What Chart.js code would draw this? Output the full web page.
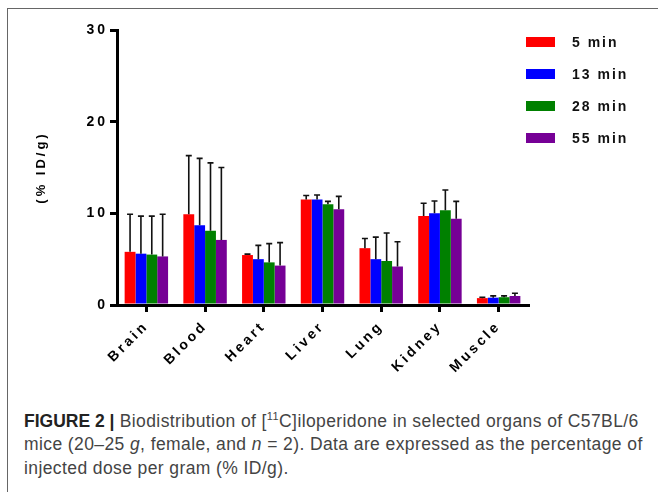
<!DOCTYPE html>
<html>
<head>
<meta charset="utf-8">
<script src="https://cdn.jsdelivr.net/npm/chart.js@4.4.1/dist/chart.umd.min.js"></script>
<style>
  body { margin: 0; background: #fff; width: 658px; height: 492px; overflow: hidden; position: relative; font-family: "Liberation Sans", Arial, sans-serif; }
  #frame { position: absolute; left: 7px; top: 8px; width: 700px; height: 600px; border-left: 1px solid #666; border-top: 1px solid #666; }
  #chart { position: absolute; left: 0; top: 0; }
  #legend { position: absolute; left: 526px; top: 37px; }
  .item { height: 32px; position: relative; }
  .swatch { position: absolute; left: 0; top: 0; width: 29px; height: 10px; }
  .lbl { position: absolute; left: 46px; top: -3px; font-weight: bold; font-size: 14px; letter-spacing: 2px; color: #111; white-space: nowrap; }
  #caption { position: absolute; left: 24px; top: 405px; width: 632px; font-size: 17.5px; letter-spacing: 0.4px; line-height: 23.5px; color: #444; }
  #caption b { color: #222; letter-spacing: 0; }
</style>
</head>
<body>
<div id="frame"></div>
<canvas id="chart" width="658" height="392"></canvas>
<div id="legend"></div>
<div id="caption"><b>FIGURE 2 |</b> Biodistribution of [<sup style="font-size:11px">11</sup>C]iloperidone in selected organs of C57BL/6 mice (20–25 <i>g</i>, female, and <i>n</i> = 2). Data are expressed as the percentage of injected dose per gram (% ID/g).</div>
<script>
const organs = ['Brain', 'Blood', 'Heart', 'Liver', 'Lung', 'Kidney', 'Muscle'];
const seriesNames = ['5 min', '13 min', '28 min', '55 min'];
const colors = ['#ff0000', '#0000ff', '#008000', '#760096'];

// mean %ID/g
const min5 = [5.8, 9.9, 5.45, 11.5, 6.2, 9.7, 0.75];
const min13 = [5.6, 8.7, 5.0, 11.5, 5.0, 10.0, 0.8];
const min28 = [5.5, 8.1, 4.65, 11.0, 4.8, 10.35, 0.85];
const min55 = [5.3, 7.1, 4.3, 10.45, 4.2, 9.4, 0.98];

// SD (upper error bar only)
const sd5 = [4.1, 6.4, 0.1, 0.45, 1.05, 1.4, 0.1];
const sd13 = [4.1, 7.3, 1.5, 0.5, 2.4, 1.35, 0.2];
const sd28 = [4.2, 7.4, 2.05, 0.3, 3.05, 2.2, 0.15];
const sd55 = [4.6, 7.9, 2.5, 1.4, 2.7, 1.9, 0.3];

const yMax = 30;
const yStep = 10;

const means = [min5, min13, min28, min55];
const sds = [sd5, sd13, sd28, sd55];

// letter spacing for all canvas text (gets reset when the canvas is sized)
const spacing = {
  id: 'spacing',
  beforeLayout(chart) { chart.ctx.letterSpacing = '3px'; },
  beforeDraw(chart) { chart.ctx.letterSpacing = '3px'; }
};

const errorBars = {
  id: 'errorBars',
  afterDatasetsDraw(chart) {
    const ctx = chart.ctx;
    const y = chart.scales.y;
    ctx.save();
    ctx.strokeStyle = '#111';
    ctx.lineWidth = 1.6;
    chart.data.datasets.forEach((ds, i) => {
      chart.getDatasetMeta(i).data.forEach((bar, j) => {
        const top = y.getPixelForValue(ds.data[j] + ds.sd[j]);
        ctx.beginPath();
        ctx.moveTo(bar.x, bar.y);
        ctx.lineTo(bar.x, top);
        ctx.moveTo(bar.x - 3, top);
        ctx.lineTo(bar.x + 3, top);
        ctx.stroke();
      });
    });
    ctx.restore();
  }
};

const fam = '"Liberation Sans", Arial, sans-serif';

new Chart(document.getElementById('chart'), {
  type: 'bar',
  data: {
    labels: organs,
    datasets: seriesNames.map((name, i) => ({
      label: name,
      data: means[i],
      sd: sds[i],
      backgroundColor: colors[i],
      borderWidth: 0
    }))
  },
  plugins: [spacing, errorBars],
  options: {
    responsive: false,
    animation: false,
    layout: { padding: { left: 30, right: 130, top: 30, bottom: 7 } },
    datasets: { bar: { categoryPercentage: 0.74, barPercentage: 1 } },
    plugins: { legend: { display: false }, tooltip: { enabled: false } },
    scales: {
      x: {
        z: 1,
        grid: { drawOnChartArea: false, offset: false, tickLength: 7, lineWidth: 3, color: '#000' },
        border: { width: 3, color: '#000' },
        ticks: { minRotation: 45, maxRotation: 45, color: '#000', font: { family: fam, weight: 'bold', size: 14 }, padding: 6 },
        afterFit(s) { s.height = 80; }
      },
      y: {
        min: 0,
        max: yMax,
        z: 1,
        grid: { drawOnChartArea: false, tickLength: 7, lineWidth: 3, color: '#000' },
        border: { width: 3, color: '#000' },
        ticks: { stepSize: yStep, color: '#000', font: { family: fam, weight: 'bold', size: 14 }, padding: 2 },
        title: { display: true, text: '(% ID/g)', color: '#000', font: { family: fam, weight: 'bold', size: 13 } },
        afterFit(s) { s.width = 87; }
      }
    }
  }
});

const legend = document.getElementById('legend');
seriesNames.forEach((name, i) => {
  const item = document.createElement('div');
  item.className = 'item';
  item.innerHTML = '<span class="swatch" style="background:' + colors[i] + '"></span><span class="lbl">' + name + '</span>';
  legend.appendChild(item);
});
</script>
</body>
</html>
